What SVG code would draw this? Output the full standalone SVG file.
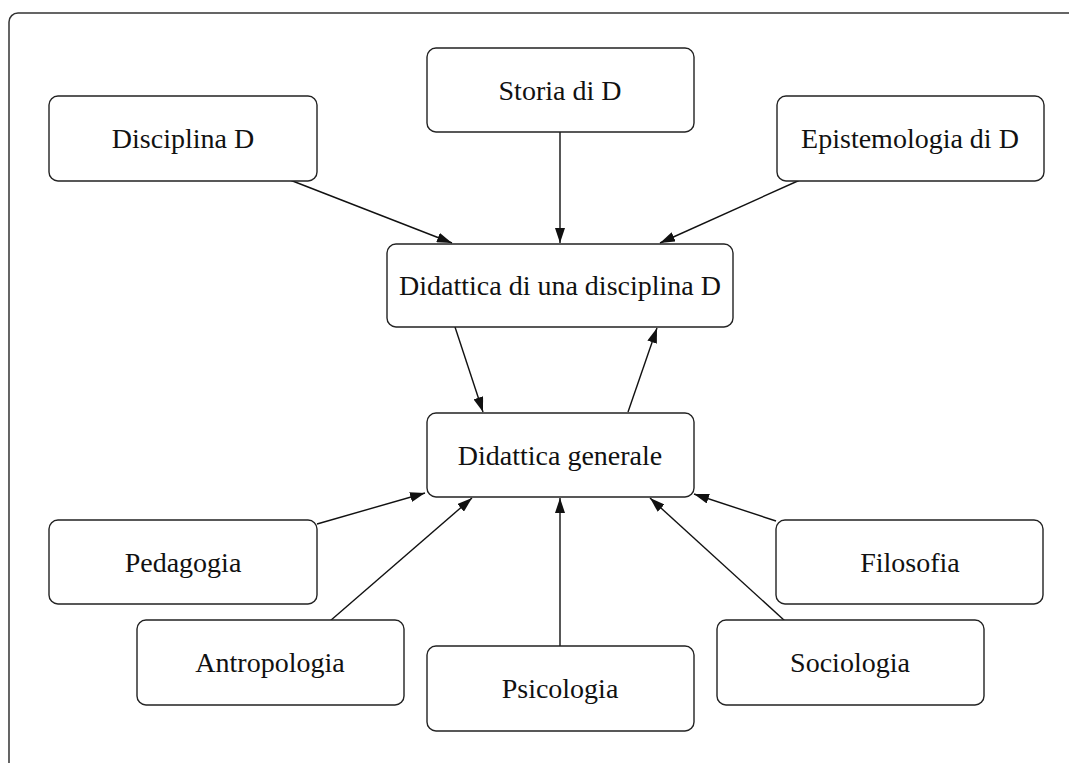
<svg xmlns="http://www.w3.org/2000/svg" width="1069" height="763" viewBox="0 0 1069 763">
<defs>
<style>
.n{fill:#fff;stroke:#222;stroke-width:1.4}
.t{font-family:"Liberation Serif","Times New Roman",serif;font-size:28px;fill:#111;text-anchor:middle}
.e{stroke:#111;stroke-width:1.4;fill:none;marker-end:url(#ah)}
</style>
<marker id="ah" viewBox="0 0 15 10" refX="15" refY="5" markerWidth="15" markerHeight="10" markerUnits="userSpaceOnUse" orient="auto">
<path d="M0,0 L15,5 L0,10 z" fill="#111"/>
</marker>
</defs>
<rect width="1069" height="763" fill="#fff"/>
<rect x="9" y="13" width="1080" height="780" rx="9" fill="none" stroke="#333" stroke-width="1.5"/>
<g id="connectors">
<line class="e" x1="290" y1="180" x2="452" y2="243"/>
<line class="e" x1="560" y1="132" x2="560" y2="243"/>
<line class="e" x1="800" y1="180" x2="660" y2="243"/>
<line class="e" x1="455" y1="327" x2="483" y2="412"/>
<line class="e" x1="628" y1="412" x2="657" y2="328"/>
<line class="e" x1="317" y1="524" x2="425" y2="493"/>
<line class="e" x1="330" y1="621" x2="472" y2="498"/>
<line class="e" x1="560" y1="646" x2="560" y2="498"/>
<line class="e" x1="785" y1="621" x2="650" y2="498"/>
<line class="e" x1="776" y1="521" x2="694" y2="494"/>
</g>
<g id="disciplina"><rect class="n" x="49" y="96" width="268" height="85" rx="9"/><text class="t" x="183" y="148">Disciplina D</text></g>
<g id="storia"><rect class="n" x="427" y="48" width="267" height="84" rx="9"/><text class="t" x="560" y="100">Storia di D</text></g>
<g id="epistemologia"><rect class="n" x="777" y="96" width="267" height="85" rx="9"/><text class="t" x="910" y="148">Epistemologia di D</text></g>
<g id="didattica-d"><rect class="n" x="387" y="244" width="346" height="83" rx="9"/><text class="t" x="560" y="295">Didattica di una disciplina D</text></g>
<g id="didattica-generale"><rect class="n" x="427" y="413" width="267" height="84" rx="9"/><text class="t" x="560" y="465">Didattica generale</text></g>
<g id="pedagogia"><rect class="n" x="49" y="520" width="268" height="84" rx="9"/><text class="t" x="183" y="572">Pedagogia</text></g>
<g id="filosofia"><rect class="n" x="776" y="520" width="267" height="84" rx="9"/><text class="t" x="910" y="572">Filosofia</text></g>
<g id="antropologia"><rect class="n" x="137" y="620" width="267" height="85" rx="9"/><text class="t" x="270" y="672">Antropologia</text></g>
<g id="psicologia"><rect class="n" x="427" y="646" width="267" height="85" rx="9"/><text class="t" x="560" y="698">Psicologia</text></g>
<g id="sociologia"><rect class="n" x="717" y="620" width="267" height="85" rx="9"/><text class="t" x="850" y="672">Sociologia</text></g>
</svg>
